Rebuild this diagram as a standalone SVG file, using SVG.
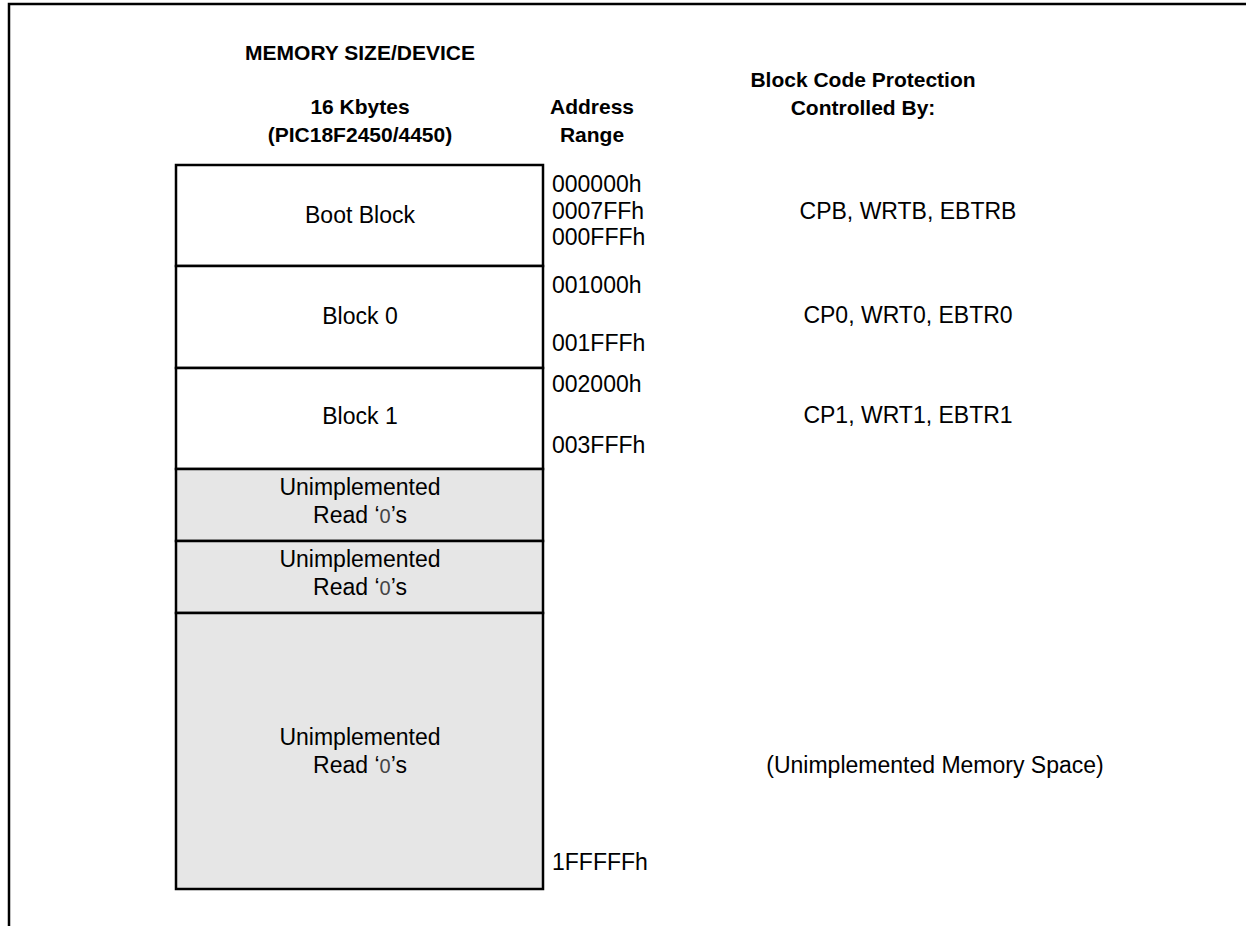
<svg xmlns="http://www.w3.org/2000/svg" width="1246" height="926" viewBox="0 0 1246 926">
  <style>
    .frame { fill: none; stroke: #000; stroke-width: 2.5; }
    .blk { fill: #ffffff; stroke: #000; stroke-width: 2.5; }
    .unimp { fill: #e6e6e6; stroke: #000; stroke-width: 2.5; }
    .hd { font-family: "Liberation Sans", Arial, sans-serif; font-weight: bold; font-size: 21px; fill: #000; text-anchor: middle; }
    .t { font-family: "Liberation Sans", Arial, sans-serif; font-size: 23px; fill: #000; }
    .c { text-anchor: middle; }
    .zero { font-size: 20px; fill: #444; }
  </style>
  <rect width="1246" height="926" fill="#ffffff"/>
  <g id="frame">
    <polyline class="frame" points="9,926 9,4 1246,4"/>
  </g>
  <g id="headings">
    <text class="hd" x="360" y="60">MEMORY SIZE/DEVICE</text>
    <text class="hd" x="360" y="114">16 Kbytes</text>
    <text class="hd" x="360" y="142">(PIC18F2450/4450)</text>
    <text class="hd" x="592" y="114">Address</text>
    <text class="hd" x="592" y="142">Range</text>
    <text class="hd" x="863" y="87">Block Code Protection</text>
    <text class="hd" x="863" y="115">Controlled By:</text>
  </g>
  <g id="boot-block">
    <rect class="blk" x="176" y="165" width="367" height="101"/>
    <text class="t c" x="360" y="223">Boot Block</text>
  </g>
  <g id="block-0">
    <rect class="blk" x="176" y="266" width="367" height="102"/>
    <text class="t c" x="360" y="324">Block 0</text>
  </g>
  <g id="block-1">
    <rect class="blk" x="176" y="368" width="367" height="101"/>
    <text class="t c" x="360" y="424">Block 1</text>
  </g>
  <g id="unimplemented-1">
    <rect class="unimp" x="176" y="469" width="367" height="72"/>
    <text class="t c" x="360" y="495">Unimplemented</text>
    <text class="t c" x="360" y="523">Read ‘<tspan class="zero">0</tspan>’s</text>
  </g>
  <g id="unimplemented-2">
    <rect class="unimp" x="176" y="541" width="367" height="72"/>
    <text class="t c" x="360" y="567">Unimplemented</text>
    <text class="t c" x="360" y="595">Read ‘<tspan class="zero">0</tspan>’s</text>
  </g>
  <g id="unimplemented-3">
    <rect class="unimp" x="176" y="613" width="367" height="276"/>
    <text class="t c" x="360" y="745">Unimplemented</text>
    <text class="t c" x="360" y="773">Read ‘<tspan class="zero">0</tspan>’s</text>
  </g>
  <g id="addresses">
    <text class="t" x="552" y="192">000000h</text>
    <text class="t" x="552" y="219">0007FFh</text>
    <text class="t" x="552" y="245">000FFFh</text>
    <text class="t" x="552" y="293">001000h</text>
    <text class="t" x="552" y="351">001FFFh</text>
    <text class="t" x="552" y="392">002000h</text>
    <text class="t" x="552" y="453">003FFFh</text>
    <text class="t" x="552" y="870">1FFFFFh</text>
  </g>
  <g id="protection">
    <text class="t c" x="908" y="219">CPB, WRTB, EBTRB</text>
    <text class="t c" x="908" y="323">CP0, WRT0, EBTR0</text>
    <text class="t c" x="908" y="423">CP1, WRT1, EBTR1</text>
    <text class="t c" x="935" y="773">(Unimplemented Memory Space)</text>
  </g>
</svg>
